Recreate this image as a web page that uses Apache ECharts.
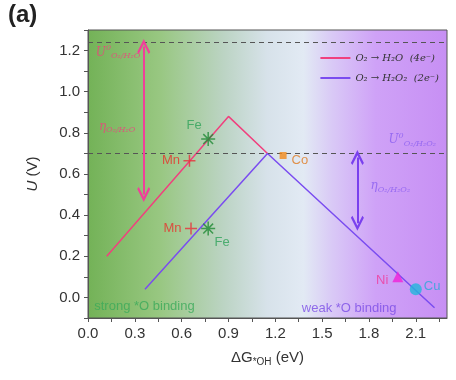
<!DOCTYPE html>
<html><head><meta charset="utf-8">
<script src="https://cdn.jsdelivr.net/npm/echarts@6/dist/echarts.min.js"></script>
<style>html,body{margin:0;padding:0;background:#fff}#c{width:456px;height:380px}</style>
</head><body><div id="c"></div>
<script>
var line4e = [[0.12, 0.20], [0.90, 0.88], [1.15, 0.70]];
var line2e = [[0.365, 0.04], [1.15, 0.70], [2.22, -0.05]];
var fePts = [[0.77, 0.77], [0.77, 0.335]];
var mnPts = [[0.65, 0.665], [0.66, 0.335]];
var coPt = [[1.25, 0.69]];
var niPt = [[1.985, 0.10]];
var cuPt = [[2.10, 0.04]];
var uRefLines = [1.235, 0.70];
var arrow4e = [[0.357, 1.22], [0.357, 0.50]];
var arrow2e = [[1.726, 0.68], [1.726, 0.36]];
var xTicks = {min: 0, max: 2.3, step: 0.15};
var yTicks = {min: -0.1, max: 1.3, step: 0.1};

var chart = echarts.init(document.getElementById('c'));
var star = 'path://M0,-10L0,10M-10,0L10,0M-7,-7L7,7M-7,7L7,-7';
var plus = 'path://M0,-10L0,10M-10,0L10,0';
var chev = 'path://M0,0L6,7.5L4.6,8.6L0,3L-4.6,8.6L-6,7.5Z';
var serif = 'DejaVu Serif';
var red = '#f0407e', blue = '#7a4cf0';
function txt(x, y, f, color, align) {
  return {value: [x, y], label: {show: true, formatter: f, color: color, align: align || 'left', position: 'inside'}};
}
var richBase = function (c) {
  return {
    i: {fontFamily: serif, fontStyle: 'italic', fontSize: 12, color: c},
    sup: {fontFamily: serif, fontStyle: 'italic', fontSize: 8, color: c, padding: [0, 0, 9, 0]},
    sub: {fontFamily: serif, fontStyle: 'italic', fontSize: 8, color: c, padding: [7, 0, 0, 0]}
  };
};
var rich = {};
['r', 'b'].forEach(function (k) {
  var c = k === 'r' ? red : '#8a5ef0';
  var rb = richBase(c);
  rich[k + 'i'] = rb.i; rich[k + 'sup'] = rb.sup; rich[k + 'sub'] = rb.sub;
});
rich.g = {fontFamily: 'Liberation Sans', fontSize: 13, color: '#3aaa5a'};
rich.p = {fontFamily: 'Liberation Sans', fontSize: 13, color: '#7b4ce6'};

var option = {
  animation: false,
  grid: {left: 88, right: 9, top: 30, bottom: 62, show: true, borderColor: '#555', borderWidth: 1,
    backgroundColor: new echarts.graphic.LinearGradient(0, 0, 1, 0, [
      {offset: 0, color: '#73b257'}, {offset: 0.2, color: '#98c781'}, {offset: 0.38, color: '#bcd4c4'},
      {offset: 0.5, color: '#d7e2ea'}, {offset: 0.6, color: '#e2eaf4'}, {offset: 0.68, color: '#d9c9f6'},
      {offset: 0.8, color: '#cfa2f7'}, {offset: 1, color: '#c78ff4'}])},
  graphic: [{type: 'text', left: 8, top: 3, style: {text: '(a)', font: 'bold 24px "Liberation Sans"', fill: '#222'}}],
  legend: {right: 12, top: 48, orient: 'vertical', itemWidth: 30, itemHeight: 2, itemGap: 10,
    textStyle: {fontFamily: serif, fontStyle: 'italic', fontSize: 10, color: '#333'},
    data: [{name: 'O₂ → H₂O  (4e⁻)', icon: 'rect'}, {name: 'O₂ → H₂O₂  (2e⁻)', icon: 'rect'}]},
  xAxis: {type: 'value', min: xTicks.min, max: xTicks.max, interval: xTicks.step,
    axisLine: {onZero: false, lineStyle: {color: '#555'}}, axisTick: {length: 4, lineStyle: {color: '#555'}},
    splitLine: {show: false},
    axisLabel: {color: '#333', fontSize: 15, fontFamily: 'Liberation Sans', margin: 8, showMaxLabel: false,
      formatter: function (v) { var k = Math.round(v / 0.15); return k % 2 === 0 ? v.toFixed(1) : ''; }},
    name: '{n|ΔG}{s|*OH}{n| (eV)}', nameLocation: 'middle', nameGap: 31,
    nameTextStyle: {rich: {n: {fontSize: 15, fontFamily: 'Liberation Sans', color: '#333'},
      s: {fontSize: 10, fontFamily: 'Liberation Sans', color: '#333', padding: [8, 0, 0, 0]}}}},
  yAxis: {type: 'value', min: yTicks.min, max: yTicks.max, interval: yTicks.step,
    axisLine: {show: true, lineStyle: {color: '#555'}}, axisTick: {show: true, length: 4, lineStyle: {color: '#555'}},
    splitLine: {show: false},
    axisLabel: {color: '#333', fontSize: 15, fontFamily: 'Liberation Sans', margin: 8,
      formatter: function (v) { var k = Math.round(v * 10); return (k % 2 === 0 && k >= 0 && k <= 12) ? v.toFixed(1) : ''; }},
    name: '{i|U} (V)', nameLocation: 'middle', nameGap: 48, nameRotate: 90,
    nameTextStyle: {fontSize: 15, fontFamily: 'Liberation Sans', color: '#333', rich: {i: {fontStyle: 'italic', fontSize: 15, fontFamily: 'Liberation Sans', color: '#333'}}}},
  series: [
    {name: 'O₂ → H₂O  (4e⁻)', type: 'line', data: line4e, symbol: 'none', lineStyle: {color: red, width: 1.5}, itemStyle: {color: red}, z: 3,
      markLine: {silent: true, symbol: 'none', label: {show: false}, lineStyle: {color: '#555', type: [5, 4], width: 1},
        data: uRefLines.map(function (v) { return {yAxis: v}; })}},
    {name: 'O₂ → H₂O₂  (2e⁻)', type: 'line', data: line2e, symbol: 'none', lineStyle: {color: blue, width: 1.5}, itemStyle: {color: blue}, z: 3},
    {type: 'line', data: [], markLine: {silent: true, symbol: [chev, chev], symbolSize: [13, 15], label: {show: false},
      lineStyle: {color: '#f0409a', width: 2, type: 'solid'}, itemStyle: {color: '#f0409a'},
      data: [[{coord: arrow4e[0]}, {coord: arrow4e[1]}]]}},
    {type: 'line', data: [], markLine: {silent: true, symbol: [chev, chev], symbolSize: [13, 15], label: {show: false},
      lineStyle: {color: '#7a40ee', width: 2, type: 'solid'}, itemStyle: {color: '#7a40ee'},
      data: [[{coord: arrow2e[0]}, {coord: arrow2e[1]}]]}},
    {type: 'scatter', data: fePts, symbol: star, symbolSize: 14, z: 5,
      itemStyle: {color: 'none', borderColor: '#1f8a35', borderWidth: 1.5},
      label: {show: true, formatter: 'Fe', color: '#2fa35a', fontSize: 13, fontFamily: 'Liberation Sans'},
      labelLayout: function (p) { return p.dataIndex === 0 ? {dx: -14, dy: -14} : {dx: 14, dy: 14}; }},
    {type: 'scatter', data: mnPts, symbol: plus, symbolSize: 12, z: 5,
      itemStyle: {color: 'none', borderColor: '#e8303a', borderWidth: 1.5},
      label: {show: true, position: 'left', distance: 1, formatter: 'Mn', color: '#e8302a', fontSize: 13, fontFamily: 'Liberation Sans'}},
    {type: 'scatter', data: coPt, symbol: 'rect', symbolSize: 7, itemStyle: {color: '#f28a1a'}, z: 5,
      label: {show: true, position: 'right', distance: 5, formatter: 'Co', color: '#e07a20', fontSize: 13, fontFamily: 'Liberation Sans', offset: [0, 5]}},
    {type: 'scatter', data: niPt, symbol: 'triangle', symbolSize: 11, itemStyle: {color: '#f020d8'}, z: 5,
      label: {show: true, position: 'left', distance: 4, formatter: 'Ni', color: '#f03a9a', fontSize: 13, fontFamily: 'Liberation Sans', offset: [0, 4]}},
    {type: 'scatter', data: cuPt, symbol: 'circle', symbolSize: 12, itemStyle: {color: '#20b8dc'}, z: 5,
      label: {show: true, position: 'right', distance: 2, formatter: 'Cu', color: '#2aa8d8', fontSize: 13, fontFamily: 'Liberation Sans', offset: [0, -3]}},
    {type: 'scatter', symbolSize: 0, z: 6, silent: true,
      label: {show: true, rich: rich},
      data: [
        txt(0.05, 1.19, '{ri|U}{rsup|0}{rsub|O₂/H₂O}', red),
        txt(0.07, 0.83, '{ri|η}{rsub|O₂/H₂O}', red),
        txt(2.23, 0.765, '{bi|U}{bsup|0}{bsub|O₂/H₂O₂}', '#8a5ef0', 'right'),
        txt(1.81, 0.54, '{bi|η}{bsub|O₂/H₂O₂}', '#8a5ef0'),
        txt(0.04, -0.045, '{g|strong *O binding}', '#3aaa5a'),
        txt(1.37, -0.055, '{p|weak *O binding}', '#7b4ce6')
      ]}
  ]
};
chart.setOption(option);
</script></body></html>
